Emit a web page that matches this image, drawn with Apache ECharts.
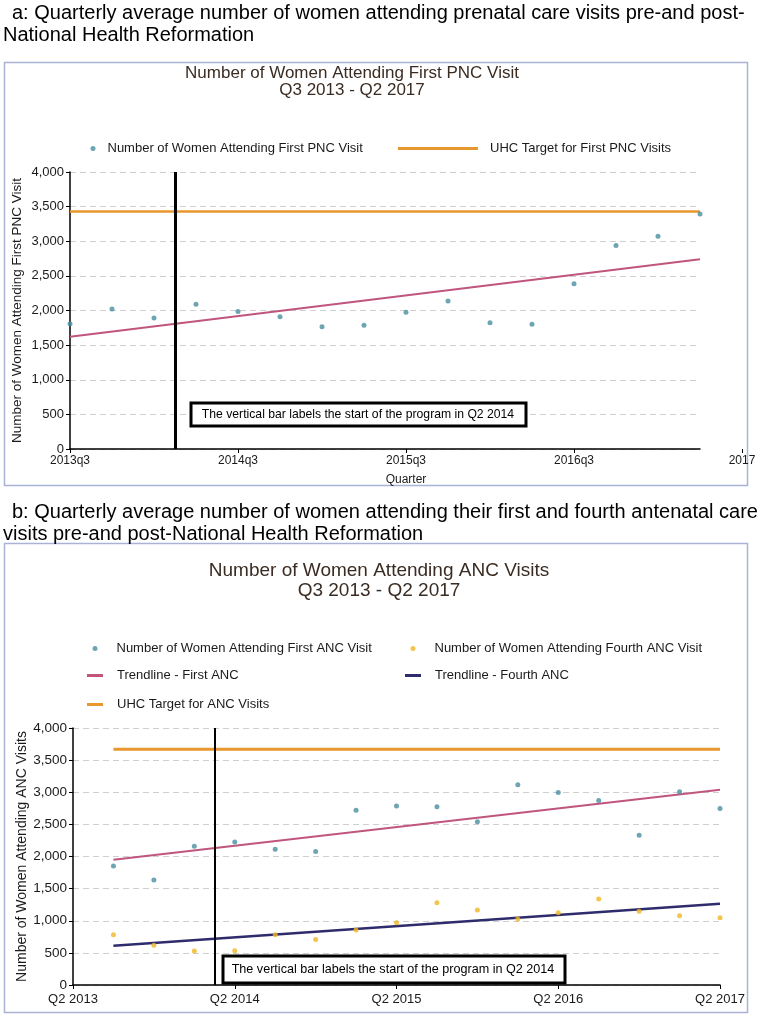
<!DOCTYPE html>
<html>
<head>
<meta charset="utf-8">
<script src="https://cdn.jsdelivr.net/npm/echarts@6/dist/echarts.min.js"></script>
<style>
html,body{margin:0;padding:0;background:#fff;}
#chart{width:759px;height:1017px;}
</style>
</head>
<body>
<div id="chart"></div>
<script>
// ---------- Panel a data (PNC) ----------
const pncQuarters = [0,1,2,3,4,5,6,7,8,9,10,11,12,13,14,15];
const pncFirst = [1810,2020,1890,2090,1985,1910,1767,1786,1976,2138,1824,1800,2388,2940,3072,3392];
const pncTarget = [3430,3430];
const pncTrend = [1620,2740];
const pncTickLabels = ['2013q3','2014q3','2015q3','2016q3','2017'];
const pncProgramStart = 2.5;

// ---------- Panel b data (ANC) ----------
const ancQuarters = [1,2,3,4,5,6,7,8,9,10,11,12,13,14,15,16];
const ancFirst = [1853,1636,2159,2227,2112,2076,2720,2785,2773,2539,3115,2995,2871,2330,3006,2746];
const ancFourth = [783,617,530,534,783,710,857,970,1282,1168,1028,1126,1340,1146,1079,1048];
const ancTarget = [3670,3670];
const ancTrendFirst = [1950,3040];
const ancTrendFourth = [610,1265];
const ancTickLabels = ['Q2 2013','Q2 2014','Q2 2015','Q2 2016','Q2 2017'];
const ancProgramStart = 3.5;

const FONT = "'Liberation Sans', Arial, sans-serif";
const TEAL = '#4a8fa0', ORANGE = '#e8962e', PINK = '#c0557d', NAVY = '#2e2c6c', YELLOW = '#f0b622';
const TXT = '#1a1a1a';

const pair = (xs, ys) => xs.map((x, i) => [x, ys[i]]);
const ends = xs => [xs[0], xs[xs.length - 1]];
const fmtNum = v => v.toLocaleString('en-US');

const splitDash = {show:true, lineStyle:{color:'#cfcfcf', type:[6,4], width:1}};
const yLabel = (size) => ({color:TXT, fontSize:size, fontFamily:FONT, margin:6, formatter:fmtNum});

const chart = echarts.init(document.getElementById('chart'), null, {renderer:'canvas'});

function legendItem(left, top, name, icon, w, h, pad, color) {
  return {
    left, top, padding:0, orient:'horizontal', selectedMode:false,
    data:[{name, icon, itemStyle:{color}}],
    itemWidth:w, itemHeight:h,
    textStyle:{color:TXT, fontSize:13, fontFamily:FONT, padding:[0,0,0,pad]}
  };
}

const option = {
  animation:false,
  backgroundColor:'#fff',
  textStyle:{fontFamily:FONT},
  legend:[
    legendItem(90.5, 142, 'Number of Women Attending First PNC Visit', 'circle', 16, 5, 1.5, TEAL),
    legendItem(398, 142, 'UHC Target for First PNC Visits', 'rect', 80, 3, 7, ORANGE),
    legendItem(92.5, 642, 'Number of Women Attending First ANC Visit', 'circle', 16, 5, 8.5, TEAL),
    legendItem(410.5, 642, 'Number of Women Attending Fourth ANC Visit', 'circle', 16, 5, 8.5, YELLOW),
    legendItem(87, 669, 'Trendline - First ANC', 'rect', 16, 3, 9, PINK),
    legendItem(405, 669, 'Trendline - Fourth ANC', 'rect', 16, 3, 9, NAVY),
    legendItem(87, 698, 'UHC Target for ANC Visits', 'rect', 16, 3, 9, ORANGE)
  ],
  grid:[
    {left:70, right:59, top:172, bottom:568},   // panel a data region
    {left:70, right:17, top:172, bottom:568},   // panel a label axis
    {left:73, right:39, top:728, bottom:32}     // panel b
  ],
  xAxis:[
    {gridIndex:0, type:'value', min:0, max:15, interval:1,
     axisLine:{show:true, onZero:false, lineStyle:{color:'#000', width:1.5}},
     axisTick:{show:false}, axisLabel:{show:false}, splitLine:{show:false}},
    {gridIndex:1, type:'value', min:0, max:16, interval:4,
     axisLine:{show:false}, axisTick:{show:true, length:4, lineStyle:{color:'#000'}},
     axisLabel:{color:TXT, fontSize:12, fontFamily:FONT, margin:6,
                formatter:v => pncTickLabels[v/4]},
     splitLine:{show:false},
     name:'Quarter', nameLocation:'middle', nameGap:25,
     nameTextStyle:{color:TXT, fontSize:12, fontFamily:FONT}},
    {gridIndex:2, type:'value', min:0, max:16, interval:4,
     axisLine:{show:true, onZero:false, lineStyle:{color:'#000', width:1.5}},
     axisTick:{show:true, length:4, lineStyle:{color:'#000'}},
     axisLabel:{color:TXT, fontSize:13, fontFamily:FONT, margin:8,
                formatter:v => ancTickLabels[v/4]},
     splitLine:{show:false}}
  ],
  yAxis:[
    {gridIndex:0, type:'value', min:0, max:4000, interval:500,
     axisLine:{show:true, lineStyle:{color:'#000', width:1.5}},
     axisTick:{show:true, length:4, lineStyle:{color:'#000'}},
     axisLabel:yLabel(13), splitLine:splitDash,
     name:'Number of Women Attending First PNC Visit', nameLocation:'middle', nameGap:46,
     nameMoveOverlap:false,
     nameTextStyle:{color:TXT, fontSize:13.5, fontFamily:FONT}},
    {gridIndex:1, type:'value', min:0, max:4000, show:false},
    {gridIndex:2, type:'value', min:0, max:4000, interval:500,
     axisLine:{show:true, lineStyle:{color:'#000', width:1.5}},
     axisTick:{show:true, length:4, lineStyle:{color:'#000'}},
     axisLabel:yLabel(13.5), splitLine:splitDash,
     name:'Number of Women Attending ANC Visits', nameLocation:'middle', nameGap:44,
     nameMoveOverlap:false,
     nameTextStyle:{color:TXT, fontSize:14, fontFamily:FONT}}
  ],
  series:[
    // ----- panel a -----
    {name:'UHC Target for First PNC Visits', type:'line', xAxisIndex:0, yAxisIndex:0,
     data:pair(ends(pncQuarters), pncTarget), showSymbol:false, symbol:'none',
     lineStyle:{color:ORANGE, width:2.5}, itemStyle:{color:ORANGE}, z:2},
    {name:'Trendline - First PNC', type:'line', xAxisIndex:0, yAxisIndex:0,
     data:pair(ends(pncQuarters), pncTrend), showSymbol:false, symbol:'none',
     lineStyle:{color:PINK, width:2}, itemStyle:{color:PINK}, z:2},
    {name:'Number of Women Attending First PNC Visit', type:'scatter', xAxisIndex:0, yAxisIndex:0,
     data:pair(pncQuarters, pncFirst), symbolSize:5, itemStyle:{color:TEAL}, z:3,
     markLine:{silent:true, symbol:'none', label:{show:false},
       lineStyle:{color:'#000', width:3, type:'solid'},
       data:[{xAxis:pncProgramStart}]}},
    // ----- panel b -----
    {name:'UHC Target for ANC Visits', type:'line', xAxisIndex:2, yAxisIndex:2,
     data:pair(ends(ancQuarters), ancTarget), showSymbol:false, symbol:'none',
     lineStyle:{color:ORANGE, width:3}, itemStyle:{color:ORANGE}, z:2},
    {name:'Trendline - First ANC', type:'line', xAxisIndex:2, yAxisIndex:2,
     data:pair(ends(ancQuarters), ancTrendFirst), showSymbol:false, symbol:'none',
     lineStyle:{color:PINK, width:2}, itemStyle:{color:PINK}, z:2},
    {name:'Trendline - Fourth ANC', type:'line', xAxisIndex:2, yAxisIndex:2,
     data:pair(ends(ancQuarters), ancTrendFourth), showSymbol:false, symbol:'none',
     lineStyle:{color:NAVY, width:2.5}, itemStyle:{color:NAVY}, z:2},
    {name:'Number of Women Attending First ANC Visit', type:'scatter', xAxisIndex:2, yAxisIndex:2,
     data:pair(ancQuarters, ancFirst), symbolSize:5, itemStyle:{color:TEAL}, z:3,
     markLine:{silent:true, symbol:'none', label:{show:false},
       lineStyle:{color:'#000', width:2, type:'solid'},
       data:[{xAxis:ancProgramStart}]}},
    {name:'Number of Women Attending Fourth ANC Visit', type:'scatter', xAxisIndex:2, yAxisIndex:2,
     data:pair(ancQuarters, ancFourth), symbolSize:5, itemStyle:{color:YELLOW}, z:3}
  ],
  graphic:[
    // headings
    {type:'text', left:12, top:3, style:{text:'a: Quarterly average number of women attending prenatal care visits pre-and post-', font:'20px '+FONT, fill:'#000'}},
    {type:'text', left:3, top:25, style:{text:'National Health Reformation', font:'20px '+FONT, fill:'#000'}},
    {type:'text', left:12, top:502, style:{text:'b: Quarterly average number of women attending their first and fourth antenatal care', font:'20px '+FONT, fill:'#000'}},
    {type:'text', left:3, top:524, style:{text:'visits pre-and post-National Health Reformation', font:'20px '+FONT, fill:'#000'}},
    // frames
    {type:'rect', shape:{x:4.5, y:62.5, width:743, height:423}, style:{fill:'none', stroke:'#aab3d6', lineWidth:1.5}, z:-10},
    {type:'rect', shape:{x:4.5, y:543.5, width:743, height:469}, style:{fill:'none', stroke:'#aab3d6', lineWidth:1.5}, z:-10},
    // chart titles
    {type:'text', x:352, y:73, style:{text:'Number of Women Attending First PNC Visit', font:'17px '+FONT, fill:'#3a2c22', align:'center', verticalAlign:'middle'}},
    {type:'text', x:352, y:90, style:{text:'Q3 2013 - Q2 2017', font:'17px '+FONT, fill:'#3a2c22', align:'center', verticalAlign:'middle'}},
    {type:'text', x:379, y:571, style:{text:'Number of Women Attending ANC Visits', font:'19px '+FONT, fill:'#3a2c22', align:'center', verticalAlign:'middle'}},
    {type:'text', x:379, y:591, style:{text:'Q3 2013 - Q2 2017', font:'19px '+FONT, fill:'#3a2c22', align:'center', verticalAlign:'middle'}},
    // annotation boxes
    {type:'rect', shape:{x:191, y:403, width:335, height:23}, style:{fill:'#fff', stroke:'#000', lineWidth:3}, z:50},
    {type:'text', x:358, y:415, style:{text:'The vertical bar labels the start of the program in Q2 2014', font:'12.2px '+FONT, fill:'#000', align:'center', verticalAlign:'middle'}, z:51},
    {type:'rect', shape:{x:223, y:956, width:342, height:27}, style:{fill:'#fff', stroke:'#000', lineWidth:3}, z:50},
    {type:'text', x:393, y:970, style:{text:'The vertical bar labels the start of the program in Q2 2014', font:'12.6px '+FONT, fill:'#000', align:'center', verticalAlign:'middle'}, z:51}
  ]
};
chart.setOption(option);
</script>
</body>
</html>
